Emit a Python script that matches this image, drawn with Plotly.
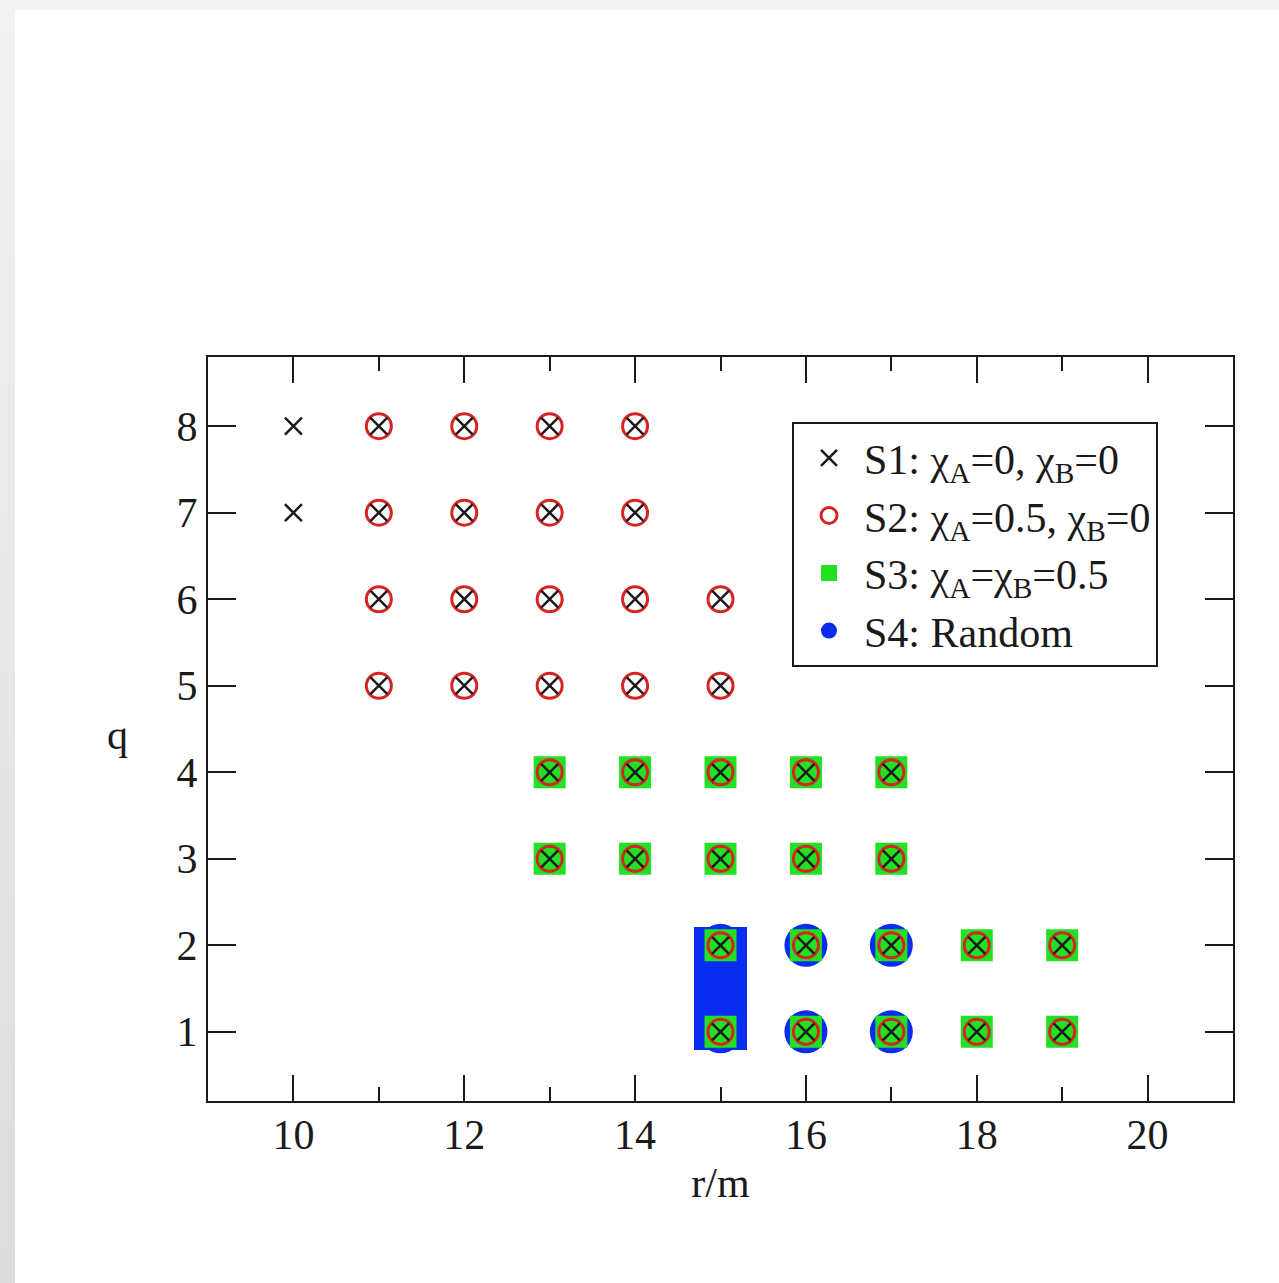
import plotly.graph_objects as go

# ---- data -------------------------------------------------------------
# S1: chi_A = 0, chi_B = 0
s1_r = [10, 10,
        11, 12, 13, 14, 11, 12, 13, 14, 11, 12, 13, 14, 15, 11, 12, 13, 14, 15,
        13, 14, 15, 16, 17, 13, 14, 15, 16, 17,
        15, 16, 17, 18, 19, 15, 16, 17, 18, 19]
s1_q = [8, 7,
        8, 8, 8, 8, 7, 7, 7, 7, 6, 6, 6, 6, 6, 5, 5, 5, 5, 5,
        4, 4, 4, 4, 4, 3, 3, 3, 3, 3,
        2, 2, 2, 2, 2, 1, 1, 1, 1, 1]

# S2: chi_A = 0.5, chi_B = 0
s2_r = [11, 12, 13, 14, 11, 12, 13, 14, 11, 12, 13, 14, 15, 11, 12, 13, 14, 15,
        13, 14, 15, 16, 17, 13, 14, 15, 16, 17,
        15, 16, 17, 18, 19, 15, 16, 17, 18, 19]
s2_q = [8, 8, 8, 8, 7, 7, 7, 7, 6, 6, 6, 6, 6, 5, 5, 5, 5, 5,
        4, 4, 4, 4, 4, 3, 3, 3, 3, 3,
        2, 2, 2, 2, 2, 1, 1, 1, 1, 1]

# S3: chi_A = chi_B = 0.5
s3_r = [13, 14, 15, 16, 17, 13, 14, 15, 16, 17,
        15, 16, 17, 18, 19, 15, 16, 17, 18, 19]
s3_q = [4, 4, 4, 4, 4, 3, 3, 3, 3, 3,
        2, 2, 2, 2, 2, 1, 1, 1, 1, 1]

# S4: random
s4_r = [15, 16, 17, 15, 16, 17]
s4_q = [2, 2, 2, 1, 1, 1]

# S4 band at r/m = 15 spanning both q values
s4_band_r = [15]
s4_band_low = [0.79]
s4_band_high = [2.21]

x_ticks = [10, 12, 14, 16, 18, 20]
y_ticks = [1, 2, 3, 4, 5, 6, 7, 8]

# ---- styling ----------------------------------------------------------
FONT = "Liberation Serif"
INK = "#1a1a1a"
RED = "#d42424"
GREEN = "#22e022"
BLUE = "#0a2cf0"

W, H = 1279, 1283
ML, MR, MT, MB = 208, 46, 357, 182
PW, PH = W - ML - MR, H - MT - MB


def px_x(p):
    return (p - ML) / PW


def px_y(p):
    return 1 - (p - MT) / PH


fig = go.Figure()

fig.add_trace(go.Bar(
    x=s4_band_r,
    base=s4_band_low,
    y=[h - l for h, l in zip(s4_band_high, s4_band_low)],
    width=0.62,
    marker=dict(color=BLUE, line=dict(width=0)),
    showlegend=False, hoverinfo="skip",
    legendgroup="s4",
))

fig.add_trace(go.Scatter(
    x=s4_r, y=s4_q, mode="markers", name="S4: Random",
    marker=dict(symbol="circle", size=43, color=BLUE, line=dict(width=0)),
    legendrank=4, legendgroup="s4",
))
fig.add_trace(go.Scatter(
    x=s3_r, y=s3_q, mode="markers", name="S3: χ<sub>A</sub>=χ<sub>B</sub>=0.5",
    marker=dict(symbol="square", size=32, color=GREEN, line=dict(width=0)),
    legendrank=3, legendgroup="s3",
))
fig.add_trace(go.Scatter(
    x=s2_r, y=s2_q, mode="markers", name="S2: χ<sub>A</sub>=0.5, χ<sub>B</sub>=0",
    marker=dict(symbol="circle-open", size=25, color=RED, line=dict(width=3, color=RED)),
    legendrank=2, legendgroup="s2",
))
fig.add_trace(go.Scatter(
    x=s1_r, y=s1_q, mode="markers", name="S1: χ<sub>A</sub>=0, χ<sub>B</sub>=0",
    marker=dict(symbol="x-thin-open", size=17, color=INK, line=dict(width=2.5, color=INK)),
    legendrank=1, legendgroup="s1",
))

# page backdrop: light grey frame along the top and left edges
shapes = [dict(type="rect", xref="paper", yref="paper",
               x0=px_x(0), x1=px_x(W), y0=px_y(0), y1=px_y(10),
               fillcolor="#f2f2f2", line=dict(width=0), layer="below")]
bands = 40
for i in range(bands):
    t = i / (bands - 1)
    g = round(0xf2 + (0xdc - 0xf2) * t)
    col = f"#{g:02x}{g:02x}{g:02x}"
    shapes.append(dict(type="rect", xref="paper", yref="paper",
                       x0=px_x(0), x1=px_x(15),
                       y0=px_y(H * i / bands), y1=px_y(H * (i + 1) / bands + 1),
                       fillcolor=col, line=dict(width=0), layer="below"))

axis_common = dict(
    showline=True, linewidth=2, linecolor=INK, mirror="ticks",
    ticks="inside", tickwidth=2, tickcolor=INK,
    showgrid=False, zeroline=False,
    tickfont=dict(family=FONT, size=42, color=INK),
)

fig.update_xaxes(
    range=[9, 21], tickmode="array", tickvals=x_ticks, ticklen=26,
    minor=dict(ticks="inside", dtick=1, tick0=9, ticklen=14, tickwidth=2, tickcolor=INK),
    title=dict(text="r/m", font=dict(family=FONT, size=42, color=INK), standoff=10),
    ticklabelstandoff=-4,
    **axis_common,
)
fig.update_yaxes(
    range=[0.2, 8.8], tickmode="array", tickvals=y_ticks, ticklen=28,
    ticklabelstandoff=0,
    **axis_common,
)

fig.update_layout(
    width=W, height=H,
    margin=dict(l=ML, r=MR, t=MT, b=MB, pad=0),
    paper_bgcolor="white", plot_bgcolor="white",
    shapes=shapes,
    bargap=0,
    showlegend=True,
    legend=dict(
        x=px_x(792), y=px_y(422), xanchor="left", yanchor="top",
        bgcolor="white", bordercolor=INK, borderwidth=2,
        font=dict(family=FONT, size=42, color=INK),
        traceorder="grouped", tracegroupgap=0,
        itemwidth=60,
        itemsizing="trace",
    ),
    annotations=[dict(
        text="q", xref="paper", yref="paper", x=px_x(117), y=px_y(735),
        xanchor="center", yanchor="middle", showarrow=False,
        font=dict(family=FONT, size=42, color=INK),
    )],
)

fig.write_html("out.html")
